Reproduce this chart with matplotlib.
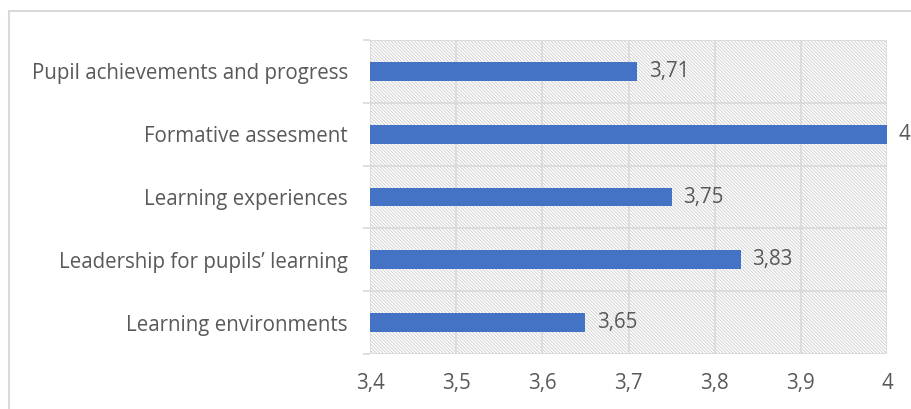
import matplotlib
matplotlib.use("Agg")
import matplotlib.pyplot as plt
from matplotlib.patches import Rectangle
from matplotlib.ticker import FixedLocator, FuncFormatter

categories = ["Pupil achievements and progress", "Formative assesment",
              "Learning experiences", "Leadership for pupils’ learning",
              "Learning environments"]
values = [3.71, 4.0, 3.75, 3.83, 3.65]
xticks = [3.4, 3.5, 3.6, 3.7, 3.8, 3.9, 4.0]

def fmt(v):
    s = f"{v:.2f}".rstrip("0").rstrip(".")
    return s.replace(".", ",")

plt.rcParams['font.family'] = ['Open Sans', 'DejaVu Sans']
plt.rcParams['hatch.linewidth'] = 0.55
text_color = "#595959"
grid_color = "#D9D9D9"
bar_color = "#4472C4"
FS = 14.8

fig = plt.figure(figsize=(9.12, 4.09), dpi=100)
# outer chart border (cropped on right/bottom)
fig.patches.append(Rectangle((9/912, -0.1), 1.2, 1 - 11/409 + 0.1,
                             transform=fig.transFigure, fill=False,
                             edgecolor=grid_color, linewidth=1.5, zorder=0))

ax = fig.add_axes([370/912, 1 - 354/409, (887 - 370)/912, (354 - 40)/409])
ax.set_xlim(3.4, 4.0)
ax.set_ylim(len(categories) - 0.5, -0.5)

# hatched plot background
ax.add_patch(Rectangle((0, 0), 1, 1, transform=ax.transAxes,
                       facecolor="white", edgecolor="#C8C8C8", linewidth=0,
                       hatch="\\" * 10, zorder=0))

y = list(range(len(categories)))
ax.barh(y, [v - 3.4 for v in values], left=3.4, height=0.30,
        color=bar_color, zorder=3)

for yi, v in zip(y, values):
    ax.annotate(fmt(v), xy=(v, yi), xytext=(8.5, 0), textcoords="offset points",
                va="center", ha="left", fontsize=FS, color=text_color,
                annotation_clip=False)

# gridlines
for xv in xticks:
    ax.axvline(xv, color=grid_color, linewidth=1.2, zorder=1)
for b in [i - 0.5 for i in range(len(categories) + 1)]:
    ax.axhline(b, color=grid_color, linewidth=1.2, zorder=1)

for s in ax.spines.values():
    s.set_visible(False)

ax.set_yticks(y)
ax.set_yticklabels(categories)
ax.yaxis.set_minor_locator(FixedLocator([i - 0.5 for i in range(len(categories) + 1)]))
ax.tick_params(axis="y", which="major", length=0, pad=16, labelsize=FS,
               labelcolor=text_color)
ax.tick_params(axis="y", which="minor", length=5, color=grid_color, width=1.2)

ax.set_xticks(xticks)
ax.xaxis.set_major_formatter(FuncFormatter(lambda v, p: fmt(v)))
ax.tick_params(axis="x", which="major", length=0, pad=14, labelsize=FS,
               labelcolor=text_color)

fig.savefig("out.png", dpi=100)
